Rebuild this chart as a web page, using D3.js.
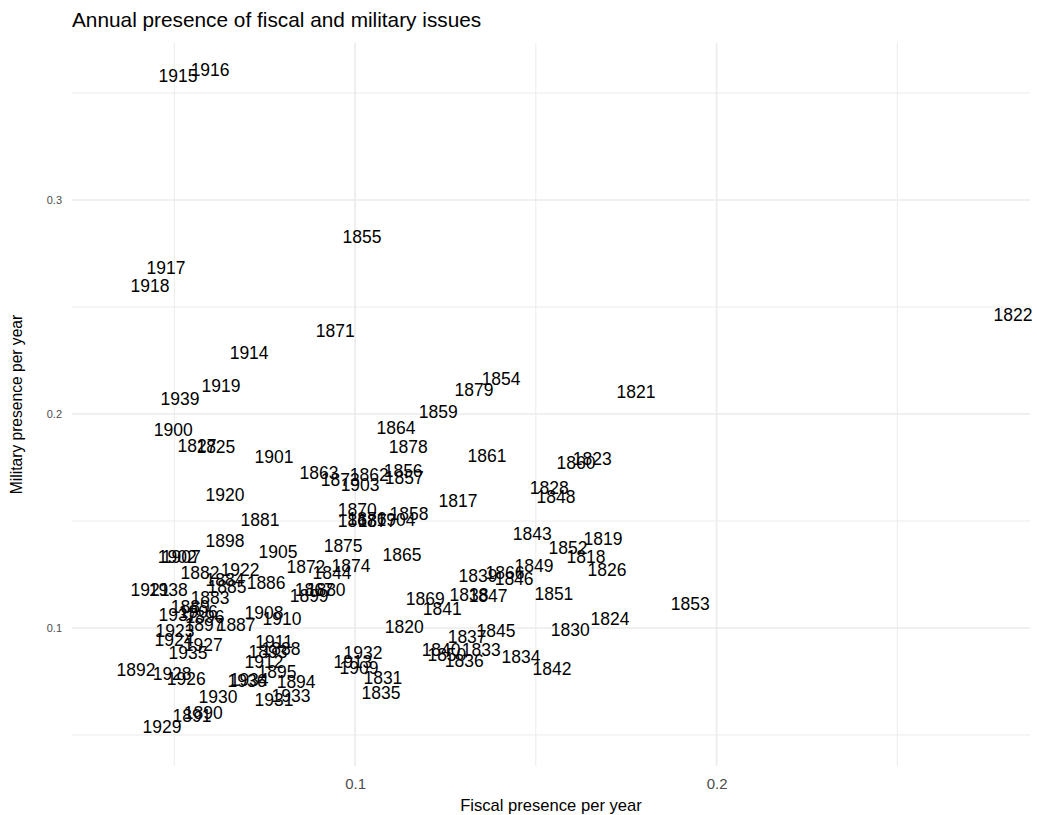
<!DOCTYPE html>
<html>
<head>
<meta charset="utf-8">
<script src="https://cdn.jsdelivr.net/npm/d3@7"></script>
<style>
  body { margin: 0; background: #fff; }
  text { font-family: "Liberation Sans", Arial, sans-serif; }
</style>
</head>
<body>
<div id="chart"></div>
<script>
// one label per year, placed at (fiscal, military)
const years = [
  1817, 1818, 1819, 1820, 1821, 1822, 1823, 1824, 1825, 1826, 1827, 1828,
  1830, 1831, 1833, 1834, 1835, 1836, 1837, 1838, 1839, 1840, 1841, 1842,
  1843, 1844, 1845, 1846, 1847, 1848, 1849, 1850, 1851, 1852, 1853, 1854,
  1855, 1856, 1857, 1858, 1859, 1860, 1861, 1862, 1863, 1864, 1865, 1866,
  1867, 1868, 1869, 1870, 1871, 1872, 1873, 1874, 1875, 1876, 1877, 1878,
  1879, 1880, 1881, 1882, 1883, 1884, 1885, 1886, 1887, 1888, 1889, 1890,
  1891, 1892, 1893, 1894, 1895, 1896, 1897, 1898, 1899, 1900, 1901, 1902,
  1903, 1904, 1905, 1906, 1907, 1908, 1909, 1910, 1911, 1912, 1913, 1914,
  1915, 1916, 1917, 1918, 1919, 1920, 1921, 1922, 1923, 1924, 1926, 1927,
  1928, 1929, 1930, 1931, 1932, 1933, 1934, 1935, 1936, 1937, 1938, 1939
];

const fiscal = [
  0.1285, 0.1639, 0.1686, 0.1136, 0.1777, 0.2820, 0.1656, 0.1705, 0.0615, 0.1697, 0.0563, 0.1537,
  0.1595, 0.1077, 0.1349, 0.1459, 0.1072, 0.1302, 0.1310, 0.1315, 0.1340, 0.1238, 0.1241, 0.1545,
  0.1490, 0.0936, 0.1390, 0.1440, 0.1368, 0.1556, 0.1495, 0.1254, 0.1550, 0.1589, 0.1927, 0.1404,
  0.1019, 0.1133, 0.1136, 0.1149, 0.1230, 0.1611, 0.1365, 0.1039, 0.0900, 0.1113, 0.1130, 0.1415,
  0.0887, 0.1006, 0.1194, 0.1006, 0.0945, 0.0864, 0.0959, 0.0989, 0.0967, 0.1033, 0.1061, 0.1147,
  0.1329, 0.0920, 0.0737, 0.0571, 0.0599, 0.0640, 0.0646, 0.0754, 0.0671, 0.0795, 0.0544, 0.0580,
  0.0549, 0.0394, 0.0759, 0.0837, 0.0784, 0.0585, 0.0582, 0.0640, 0.0873, 0.0497, 0.0776, 0.0508,
  0.1014, 0.1113, 0.0787, 0.0566, 0.0519, 0.0748, 0.1011, 0.0798, 0.0776, 0.0748, 0.0994, 0.0707,
  0.0510, 0.0599, 0.0477, 0.0433, 0.0629, 0.0640, 0.0433, 0.0682, 0.0502, 0.0499, 0.0533, 0.0580,
  0.0494, 0.0466, 0.0621, 0.0776, 0.1022, 0.0823, 0.0707, 0.0538, 0.0701, 0.0510, 0.0483, 0.0516
];

const military = [
  0.1593, 0.1332, 0.1416, 0.1005, 0.2103, 0.2463, 0.1790, 0.1042, 0.1846, 0.1271, 0.1850, 0.1654,
  0.0991, 0.0766, 0.0897, 0.0864, 0.0696, 0.0846, 0.0958, 0.1154, 0.1243, 0.0897, 0.1089, 0.0808,
  0.1439, 0.1257, 0.0986, 0.1229, 0.1150, 0.1612, 0.1290, 0.0874, 0.1159, 0.1374, 0.1112, 0.2164,
  0.2827, 0.1734, 0.1701, 0.1533, 0.2009, 0.1771, 0.1804, 0.1715, 0.1724, 0.1935, 0.1341, 0.1257,
  0.1178, 0.1500, 0.1136, 0.1551, 0.2388, 0.1285, 0.1692, 0.1290, 0.1383, 0.1509, 0.1500, 0.1846,
  0.2112, 0.1178, 0.1505, 0.1257, 0.1140, 0.1224, 0.1192, 0.1210, 0.1014, 0.0902, 0.1098, 0.0603,
  0.0589, 0.0804, 0.0888, 0.0748, 0.0794, 0.1051, 0.1014, 0.1407, 0.1150, 0.1925, 0.1799, 0.1332,
  0.1668, 0.1505, 0.1355, 0.1075, 0.1332, 0.1070, 0.0813, 0.1042, 0.0935, 0.0841, 0.0841, 0.2285,
  0.3579, 0.3607, 0.2682, 0.2598, 0.2131, 0.1621, 0.1178, 0.1271, 0.0986, 0.0944, 0.0762, 0.0921,
  0.0785, 0.0537, 0.0678, 0.0664, 0.0883, 0.0682, 0.0757, 0.0883, 0.0752, 0.1061, 0.1178, 0.2070
];

const xMajor = [0.1, 0.2];
const xMinor = [0.05, 0.15, 0.25];
const yMajor = [0.1, 0.2, 0.3];
const yMinor = [0.05, 0.15, 0.25, 0.35];

const rows = years.map((yr, i) => ({year: yr, fiscal: fiscal[i], military: military[i]}));

const width = 1037, height = 815;
const panel = {left: 72, right: 1030, top: 43, bottom: 766};

const svg = d3.select("#chart").append("svg")
    .attr("width", width)
    .attr("height", height)
    .style("background", "#fff");

const x = d3.scaleLinear().domain([0.0217, 0.2867]).range([panel.left, panel.right]);
const y = d3.scaleLinear().domain([0.0355, 0.3734]).range([panel.bottom, panel.top]);

const gridColor = "#ebebeb";

// minor grid first, major on top
function grid(g, scale, values, vertical, w) {
    g.selectAll("line")
        .data(values)
        .join("line")
        .attr("x1", d => vertical ? scale(d) : panel.left)
        .attr("x2", d => vertical ? scale(d) : panel.right)
        .attr("y1", d => vertical ? panel.top : scale(d))
        .attr("y2", d => vertical ? panel.bottom : scale(d))
        .attr("stroke", gridColor)
        .attr("stroke-width", w);
}
grid(svg.append("g"), x, xMinor, true, 1);
grid(svg.append("g"), y, yMinor, false, 1);
grid(svg.append("g"), x, xMajor, true, 1.6);
grid(svg.append("g"), y, yMajor, false, 1.6);

// tick labels
const xAxis = svg.append("g")
    .attr("transform", `translate(0,${panel.bottom})`)
    .call(d3.axisBottom(x).tickValues(xMajor).tickSize(0).tickPadding(12).tickFormat(d3.format(".1f")));
xAxis.select(".domain").remove();
xAxis.selectAll("text").attr("font-size", 15).attr("fill", "#4d4d4d")
    .style("font-family", "'Liberation Sans', Arial, sans-serif");

const yAxis = svg.append("g")
    .attr("transform", `translate(${panel.left},0)`)
    .call(d3.axisLeft(y).tickValues(yMajor).tickSize(0).tickPadding(10).tickFormat(d3.format(".1f")));
yAxis.select(".domain").remove();
yAxis.selectAll("text").attr("font-size", 11).attr("fill", "#4d4d4d")
    .style("font-family", "'Liberation Sans', Arial, sans-serif");

// year labels
svg.append("g").selectAll("text")
    .data(rows)
    .join("text")
    .attr("x", d => x(d.fiscal))
    .attr("y", d => y(d.military))
    .attr("dy", "0.35em")
    .attr("text-anchor", "middle")
    .attr("font-size", 17.5)
    .attr("fill", "#000")
    .text(d => d.year);

// titles
svg.append("text")
    .attr("x", panel.left)
    .attr("y", 27)
    .attr("font-size", 20.8)
    .attr("fill", "#000")
    .text("Annual presence of fiscal and military issues");

svg.append("text")
    .attr("x", (panel.left + panel.right) / 2)
    .attr("y", 811)
    .attr("text-anchor", "middle")
    .attr("font-size", 16.6)
    .attr("fill", "#000")
    .text("Fiscal presence per year");

svg.append("text")
    .attr("transform", `translate(22,${(panel.top + panel.bottom) / 2}) rotate(-90)`)
    .attr("text-anchor", "middle")
    .attr("font-size", 15.6)
    .attr("fill", "#000")
    .text("Military presence per year");
</script>
</body>
</html>
